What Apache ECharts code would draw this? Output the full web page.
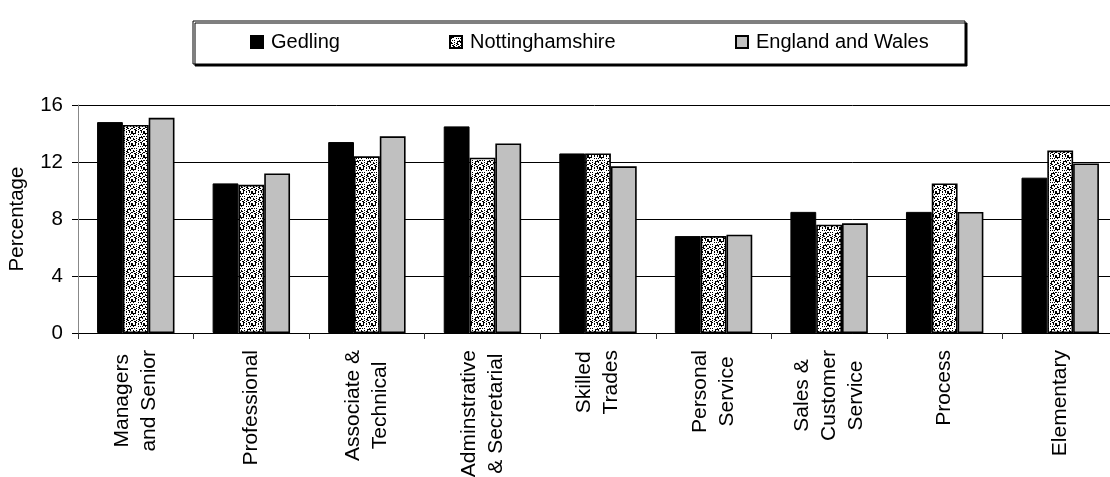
<!DOCTYPE html>
<html>
<head>
<meta charset="utf-8">
<script src="https://cdn.jsdelivr.net/npm/echarts@6/dist/echarts.min.js"></script>
<style>
  html, body { margin: 0; padding: 0; background: #fff; }
  #chart { width: 1110px; height: 477px; }
</style>
</head>
<body>
<div id="chart"></div>
<script>
// Occupation groups and the share of residents in each (per cent)
const categories = [
  'Managers\nand Senior',
  'Professional',
  'Associate &\nTechnical',
  'Adminstrative\n& Secretarial',
  'Skilled\nTrades',
  'Personal\nService',
  'Sales &\nCustomer\nService',
  'Process',
  'Elementary'
];
const seriesNames = ['Gedling', 'Nottinghamshire', 'England and Wales'];
const gedling         = [14.8, 10.5, 13.4, 14.5, 12.6, 6.8, 8.5, 8.5, 10.9];
const nottinghamshire = [14.6, 10.4, 12.4, 12.3, 12.6, 6.8, 7.6, 10.5, 12.8];
const englandWales    = [15.1, 11.2, 13.8, 13.3, 11.7, 6.9, 7.7, 8.5, 11.9];
const yTicks = [0, 4, 8, 12, 16];

const FONT = 'Liberation Sans, Arial, sans-serif';

// Stippled fill used for the county bars: a fixed scatter of dots on white
function stipple() {
  const n = 12;
  const c = document.createElement('canvas');
  c.width = n; c.height = n;
  const ctx = c.getContext('2d');
  ctx.fillStyle = '#ffffff';
  ctx.fillRect(0, 0, n, n);
  ctx.fillStyle = '#000000';
  for (let y = 0; y < n; y++) {
    for (let x = 0; x < n; x++) {
      if ((x * 37 + y * 91 + x * y * 17) % 11 < 4) ctx.fillRect(x, y, 1, 1);
    }
  }
  return { image: c, repeat: 'repeat' };
}
const dotted = stipple();

const chart = echarts.init(document.getElementById('chart'), null, { renderer: 'canvas' });

function legendAt(name, left) {
  return {
    data: [name],
    left: left,
    top: 32,
    padding: 0,
    itemWidth: 12,
    itemHeight: 12,
    selectedMode: false,
    icon: 'rect',
    textStyle: { fontFamily: FONT, fontSize: 20, color: '#000', padding: [0, 0, 0, 3] }
  };
}

const option = {
  backgroundColor: '#ffffff',
  animation: false,
  graphic: [{
    type: 'rect',
    z: 0,
    shape: { x: 193, y: 21, width: 772, height: 43 },
    style: {
      fill: '#ffffff', stroke: '#000000', lineWidth: 1,
      shadowColor: '#000000', shadowOffsetX: 2, shadowOffsetY: 2, shadowBlur: 0
    }
  }],
  legend: [
    legendAt(seriesNames[0], 250),
    legendAt(seriesNames[1], 449),
    legendAt(seriesNames[2], 735)
  ],
  grid: {
    left: 78, top: 105, width: 1040, height: 228,
    containLabel: false,
    outerBoundsMode: 'none'
  },
  xAxis: {
    type: 'category',
    data: categories,
    axisLine: { lineStyle: { color: '#000', width: 1 } },
    axisTick: { show: true, length: 6, lineStyle: { color: '#333' } },
    axisLabel: {
      rotate: 90,
      margin: 17,
      interval: 0,
      color: '#000',
      fontFamily: FONT,
      fontSize: 21,
      formatter: v => v.split('\n').map(s => '{c|' + s + '}').join('\n'),
      rich: {
        c: { align: 'center', fontFamily: FONT, fontSize: 21, lineHeight: 27, color: '#000' }
      }
    }
  },
  yAxis: {
    type: 'value',
    min: yTicks[0],
    max: yTicks[yTicks.length - 1],
    interval: yTicks[1] - yTicks[0],
    name: 'Percentage',
    nameLocation: 'middle',
    nameRotate: 90,
    nameGap: 50,
    nameTextStyle: { fontFamily: FONT, fontSize: 20.5, color: '#000' },
    axisLine: { show: true, lineStyle: { color: '#888', width: 1 } },
    axisTick: { show: true, length: 6, lineStyle: { color: '#000' } },
    axisLabel: { margin: 15, color: '#000', fontFamily: FONT, fontSize: 20.5 },
    splitLine: { show: true, lineStyle: { color: '#000', width: 1 } }
  },
  series: [
    {
      name: seriesNames[0], type: 'bar', data: gedling,
      barGap: '0%', barCategoryGap: '33%',
      itemStyle: { color: '#000000', borderColor: '#000000', borderWidth: 1 }
    },
    {
      name: seriesNames[1], type: 'bar', data: nottinghamshire,
      barGap: '0%', barCategoryGap: '33%',
      itemStyle: { color: dotted, borderColor: '#000000', borderWidth: 1.6 }
    },
    {
      name: seriesNames[2], type: 'bar', data: englandWales,
      barGap: '0%', barCategoryGap: '33%',
      itemStyle: { color: '#c0c0c0', borderColor: '#000000', borderWidth: 1.6 }
    }
  ]
};

chart.setOption(option);
</script>
</body>
</html>
